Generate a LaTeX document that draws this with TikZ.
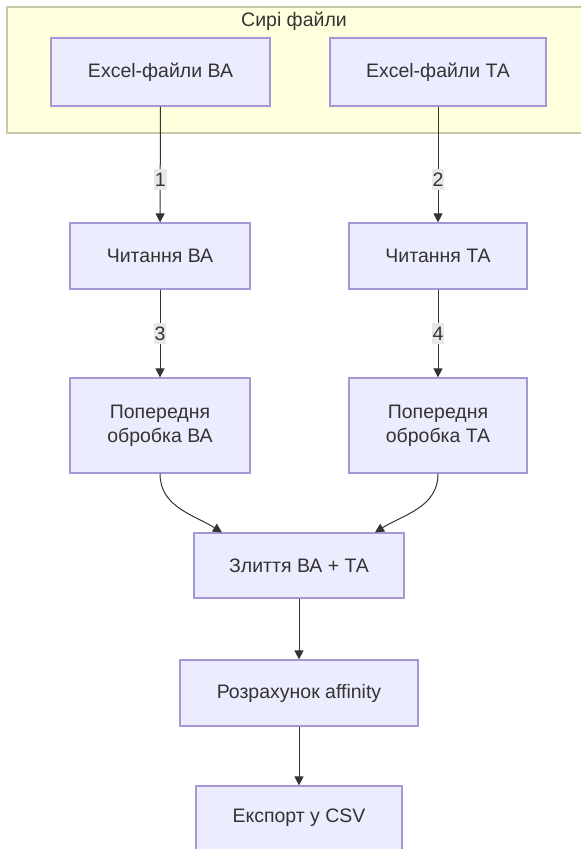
\documentclass[tikz,border=0pt]{standalone}
\usepackage{fontspec}
\setmainfont{Liberation Sans}
\usepackage{tikz}
\usetikzlibrary{arrows.meta}

\definecolor{boxfill}{HTML}{ECECFF}
\definecolor{boxline}{HTML}{A596D6}
\definecolor{grpfill}{HTML}{FFFFDE}
\definecolor{grpline}{HTML}{C8C8A8}
\definecolor{ink}{HTML}{333333}

\begin{document}
\begin{tikzpicture}[x=1pt, y=-1pt,
        font=\fontsize{19.5}{24}\selectfont, text=ink,
        proc/.style={draw=boxline, fill=boxfill, line width=1.2pt, align=center},
        edge/.style={draw=ink, line width=1pt, -{Triangle[length=9pt, width=9pt]}},
        num/.style={fill=gray!18, text=ink, inner xsep=1pt, inner ysep=4pt}]
        \useasboundingbox (0, 0) rectangle (581, 849);

        % Group
        \draw[fill=grpfill, draw=grpline, line width=1.2pt] (7, 7) rectangle (595, 133);
        \node (grp) at (294, 21) {Сирі файли};

        % Nodes
        \node[proc, minimum width=219pt, minimum height=68pt] (exBA) at (160.5, 72) {Excel-файли ВА};
        \node[proc, minimum width=216pt, minimum height=68pt] (exTA) at (438, 72) {Excel-файли ТА};
        \node[proc, minimum width=180pt, minimum height=66pt] (rdBA) at (160, 256) {Читання ВА};
        \node[proc, minimum width=178pt, minimum height=66pt] (rdTA) at (438, 256) {Читання ТА};
        \node[proc, minimum width=180pt, minimum height=95pt] (ppBA) at (160, 425.5) {Попередня\\обробка ВА};
        \node[proc, minimum width=178pt, minimum height=95pt] (ppTA) at (438, 425.5) {Попередня\\обробка ТА};
        \node[proc, minimum width=210pt, minimum height=65pt] (merge) at (299, 565.5) {Злиття ВА + ТА};
        \node[proc, minimum width=238pt, minimum height=66pt] (affin) at (299, 693) {Розрахунок affinity};
        \node[proc, minimum width=206pt, minimum height=64pt] (csv) at (299, 818) {Експорт у CSV};

        \coordinate (inL) at ([xshift=-77pt]merge.north);
        \coordinate (inR) at ([xshift=76pt]merge.north);

        % Edges
        \draw[edge] (exBA) -- node[num, pos=0.63] {1} (rdBA);
        \draw[edge] (exTA) -- node[num, pos=0.63] {2} (rdTA);
        \draw[edge] (rdBA) -- node[num] {3} (ppBA);
        \draw[edge] (rdTA) -- node[num] {4} (ppTA);
        \draw[edge] (ppBA.south) to[out=-90, in=148] (inL);
        \draw[edge] (ppTA.south) to[out=-90, in=32] (inR);
        \draw[edge] (merge) -- (affin);
        \draw[edge] (affin) -- (csv);

    \end{tikzpicture}
\end{document}
